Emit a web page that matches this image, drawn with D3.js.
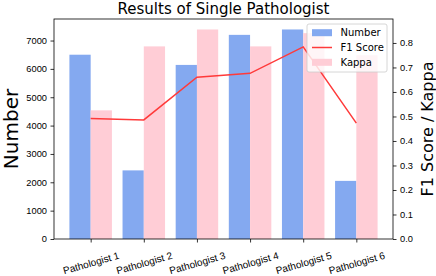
<!DOCTYPE html>
<html>
<head>
<meta charset="utf-8">
<script src="https://cdn.jsdelivr.net/npm/d3@7"></script>
<style>
  body { margin: 0; background: #fff; }
  svg { display: block; font-family: "DejaVu Sans", sans-serif; }
  .tick text { fill: #000; }
  .tick line { stroke: #000; stroke-width: 0.8; }
</style>
</head>
<body>
<div class="chart"></div>
<script>
var svgWidth = 436;
var svgHeight = 276;

// data
var pathologists = ["Pathologist 1", "Pathologist 2", "Pathologist 3", "Pathologist 4", "Pathologist 5", "Pathologist 6"];
var numbers = [6500, 2420, 6140, 7200, 7390, 2050];
var f1Scores = [0.492, 0.486, 0.660, 0.676, 0.784, 0.473];
var kappas = [0.525, 0.786, 0.855, 0.786, 0.840, 0.750];
var leftTicks = [0, 1000, 2000, 3000, 4000, 5000, 6000, 7000];
var rightTicks = [0, 0.1, 0.2, 0.3, 0.4, 0.5, 0.6, 0.7, 0.8];

var plot = { left: 54, right: 393, top: 19, bottom: 239 };
var barW = 0.4;

var svg = d3.select(".chart")
  .append("svg")
  .attr("width", svgWidth)
  .attr("height", svgHeight);

var xScale = d3.scaleLinear()
  .domain([-0.69, pathologists.length - 1 + 0.69])
  .range([plot.left, plot.right]);

var yLeft = d3.scaleLinear()
  .domain([0, d3.max(numbers) * 1.05])
  .range([plot.bottom, plot.top]);

var yRight = d3.scaleLinear()
  .domain([0, d3.max(kappas) * 1.05])
  .range([plot.bottom, plot.top]);

// bars
svg.append("g").selectAll("rect")
  .data(numbers)
  .enter()
  .append("rect")
  .attr("x", (d, i) => xScale(i - barW))
  .attr("width", (d, i) => xScale(i) - xScale(i - barW))
  .attr("y", d => yLeft(d))
  .attr("height", d => plot.bottom - yLeft(d))
  .attr("fill", "#84a9f0");

svg.append("g").selectAll("rect")
  .data(kappas)
  .enter()
  .append("rect")
  .attr("x", (d, i) => xScale(i))
  .attr("width", (d, i) => xScale(i + barW) - xScale(i))
  .attr("y", d => yRight(d))
  .attr("height", d => plot.bottom - yRight(d))
  .attr("fill", "#ffcdd6");

// f1 line
var line = d3.line()
  .x((d, i) => xScale(i))
  .y(d => yRight(d));

svg.append("path")
  .datum(f1Scores)
  .attr("d", line)
  .attr("fill", "none")
  .attr("stroke", "#ff3a3a")
  .attr("stroke-width", 1.5);

// axes
var leftAxis = d3.axisLeft(yLeft).tickValues(leftTicks).tickSize(3.5).tickPadding(3.5)
  .tickFormat(d3.format("d"));
var rightAxis = d3.axisRight(yRight).tickValues(rightTicks).tickSize(3.5).tickPadding(3.5)
  .tickFormat(d3.format(".1f"));
var bottomAxis = d3.axisBottom(xScale).tickValues(d3.range(pathologists.length))
  .tickSize(3.5).tickFormat(i => pathologists[i]);

svg.append("g")
  .attr("transform", `translate(${plot.left},0)`)
  .call(leftAxis)
  .call(g => g.select(".domain").remove())
  .call(g => g.selectAll(".tick text").style("font-size", "9.3px"));

svg.append("g")
  .attr("transform", `translate(${plot.right},0)`)
  .call(rightAxis)
  .call(g => g.select(".domain").remove())
  .call(g => g.selectAll(".tick text").style("font-size", "9.3px"));

var bx = svg.append("g")
  .attr("transform", `translate(0,${plot.bottom})`)
  .call(bottomAxis)
  .call(g => g.select(".domain").remove());

bx.selectAll(".tick text")
  .attr("y", 0)
  .attr("dy", 0)
  .style("font-size", "10px")
  .attr("text-anchor", "middle")
  .attr("dominant-baseline", "central")
  .attr("transform", "translate(0,24) rotate(-16)");

// frame
svg.append("rect")
  .attr("x", plot.left)
  .attr("y", plot.top)
  .attr("width", plot.right - plot.left)
  .attr("height", plot.bottom - plot.top)
  .attr("fill", "none")
  .attr("stroke", "#000")
  .attr("stroke-width", 0.8);

// title and labels
svg.append("text")
  .attr("x", (plot.left + plot.right) / 2)
  .attr("y", 14)
  .attr("text-anchor", "middle")
  .attr("font-size", "15px")
  .text("Results of Single Pathologist");

svg.append("text")
  .attr("transform", `translate(17.5, ${(plot.top + plot.bottom) / 2}) rotate(-90)`)
  .attr("text-anchor", "middle")
  .attr("font-size", "20px")
  .text("Number");

svg.append("text")
  .attr("transform", `translate(433, ${(plot.top + plot.bottom) / 2}) rotate(-90)`)
  .attr("text-anchor", "middle")
  .attr("font-size", "16px")
  .text("F1 Score / Kappa");

// legend
var legend = svg.append("g").attr("transform", "translate(307,24)");
legend.append("rect")
  .attr("width", 80)
  .attr("height", 48)
  .attr("rx", 2)
  .attr("fill", "#fff")
  .attr("fill-opacity", 0.8)
  .attr("stroke", "#cccccc")
  .attr("stroke-width", 0.8);

var legendItems = [
  { label: "Number", type: "bar", color: "#84a9f0" },
  { label: "F1 Score", type: "line", color: "#ff3a3a" },
  { label: "Kappa", type: "bar", color: "#ffcdd6" }
];

legendItems.forEach(function(item, i) {
  var cy = 8.7 + i * 14.8;
  if (item.type === "bar") {
    legend.append("rect")
      .attr("x", 5).attr("y", cy - 3.5)
      .attr("width", 20).attr("height", 7)
      .attr("fill", item.color);
  } else {
    legend.append("line")
      .attr("x1", 5).attr("x2", 25)
      .attr("y1", cy).attr("y2", cy)
      .attr("stroke", item.color)
      .attr("stroke-width", 1.5);
  }
  legend.append("text")
    .attr("x", 33.5)
    .attr("y", cy)
    .attr("dy", "0.35em")
    .attr("font-size", "10px")
    .text(item.label);
});
</script>
</body>
</html>
